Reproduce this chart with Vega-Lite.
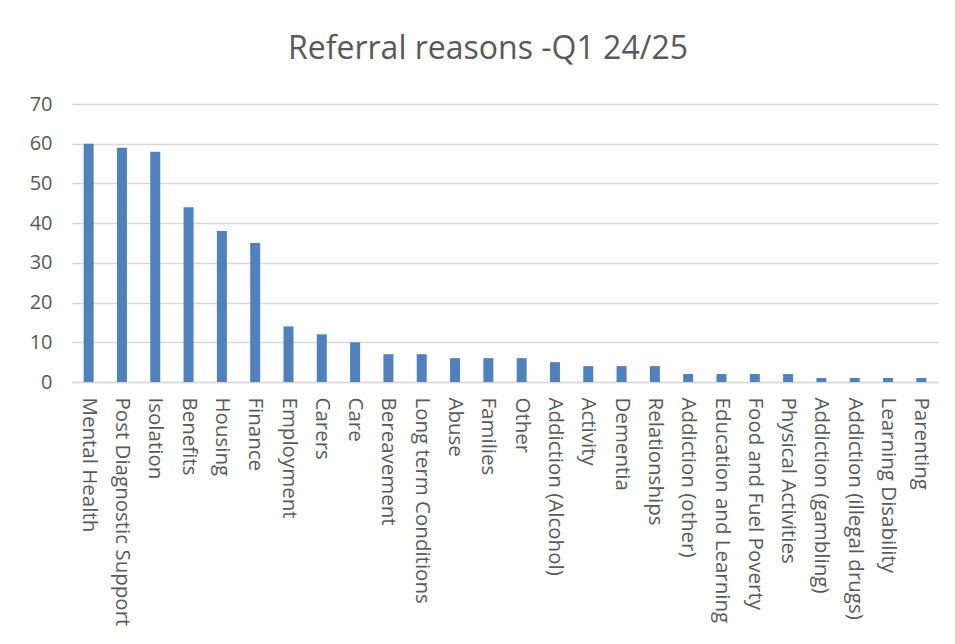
{
  "$schema": "https://vega.github.io/schema/vega-lite/v6.json",
  "autosize": {"type": "none"},
  "width": 866,
  "height": 278,
  "padding": {"left": 72, "top": 104, "right": 17, "bottom": 262},
  "background": "white",
  "title": {
    "text": "Referral reasons -Q1 24/25",
    "fontSize": 32,
    "font": "Open Sans",
    "fontWeight": "normal",
    "color": "#595959",
    "offset": 28,
    "dx": -17,
    "anchor": "middle"
  },
  "data": {
    "values": [
      {"reason": "Mental Health", "count": 60},
      {"reason": "Post Diagnostic Support", "count": 59},
      {"reason": "Isolation", "count": 58},
      {"reason": "Benefits", "count": 44},
      {"reason": "Housing", "count": 38},
      {"reason": "Finance", "count": 35},
      {"reason": "Employment", "count": 14},
      {"reason": "Carers", "count": 12},
      {"reason": "Care", "count": 10},
      {"reason": "Bereavement", "count": 7},
      {"reason": "Long term Conditions", "count": 7},
      {"reason": "Abuse", "count": 6},
      {"reason": "Families", "count": 6},
      {"reason": "Other", "count": 6},
      {"reason": "Addiction (Alcohol)", "count": 5},
      {"reason": "Activity", "count": 4},
      {"reason": "Dementia", "count": 4},
      {"reason": "Relationships", "count": 4},
      {"reason": "Addiction (other)", "count": 2},
      {"reason": "Education and Learning", "count": 2},
      {"reason": "Food and Fuel Poverty", "count": 2},
      {"reason": "Physical Activities", "count": 2},
      {"reason": "Addiction (gambling)", "count": 1},
      {"reason": "Addiction (illegal drugs)", "count": 1},
      {"reason": "Learning Disability", "count": 1},
      {"reason": "Parenting", "count": 1}
    ]
  },
  "mark": {"type": "bar", "color": "#4f81bd"},
  "encoding": {
    "x": {
      "field": "reason",
      "type": "nominal",
      "sort": null,
      "scale": {"paddingInner": 0.7, "paddingOuter": 0.35},
      "axis": {
        "title": null,
        "labelAngle": 90,
        "labelAlign": "left",
        "labelBaseline": "middle",
        "labelFontSize": 20.5,
        "labelFont": "Open Sans",
        "labelColor": "#595959",
        "labelPadding": 15,
        "ticks": false,
        "domainColor": "#d9d9d9",
        "domainWidth": 1.5,
        "labelLimit": 300
      }
    },
    "y": {
      "field": "count",
      "type": "quantitative",
      "scale": {"domain": [0, 70]},
      "axis": {
        "title": null,
        "values": [0, 10, 20, 30, 40, 50, 60, 70],
        "labelFontSize": 20,
        "labelFont": "Open Sans",
        "labelColor": "#595959",
        "labelPadding": 20,
        "ticks": false,
        "domain": false,
        "gridColor": "#d9d9d9",
        "gridWidth": 1.5
      }
    }
  },
  "config": {"view": {"stroke": null}}
}
